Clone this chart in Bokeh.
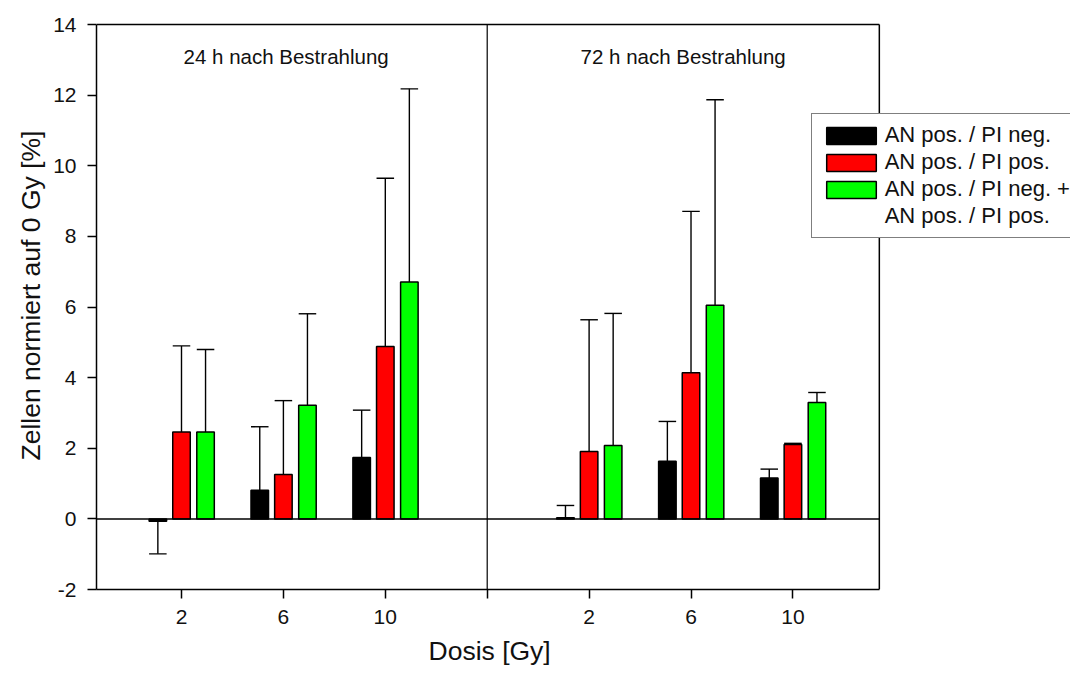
from bokeh.plotting import figure
from bokeh.models import (ColumnDataSource, FixedTicker, Label, Legend, LegendItem, Title)
from bokeh.embed import file_html
from bokeh.resources import INLINE

# ---------------- data ----------------
dose_labels = ["2", "6", "10", "", "2", "6", "10"]
tick_positions = [1, 2, 3, 4, 5, 6, 7]
group_positions = [1, 2, 3, 5, 6, 7]          # 24 h: 2, 6, 10 Gy | 72 h: 2, 6, 10 Gy
y_ticks = [-2, 0, 2, 4, 6, 8, 10, 12, 14]
y_tick_labels = ["-2", "0", "2", "4", "6", "8", "10", "12", "14"]
series_names = ["AN pos. / PI neg.", "AN pos. / PI pos.", "AN pos. / PI neg. +"]
series_names_cont = "AN pos. / PI pos."

an_pos_pi_neg = [-0.07, 0.81, 1.74, 0.03, 1.63, 1.16]
an_pos_pi_neg_err = [0.92, 1.80, 1.34, 0.35, 1.13, 0.25]

an_pos_pi_pos = [2.46, 1.26, 4.88, 1.91, 4.14, 2.11]
an_pos_pi_pos_err = [2.44, 2.09, 4.77, 3.73, 4.57, 0.03]

an_pos_sum = [2.46, 3.22, 6.71, 2.08, 6.05, 3.30]
an_pos_sum_err = [2.34, 2.59, 5.47, 3.74, 5.82, 0.28]

colors = ["#000000", "#FF0000", "#00FF00"]
offsets = [-0.232, 0.0, 0.236]
bar_w = 0.172

FONT = "Liberation Sans"
X0, X1 = 0.1659, 7.848      # panel x extent
Y0, Y1 = -2, 14

p = figure(width=1070, height=673, x_range=(X0, 9.724), y_range=(Y0, 14.06),
           output_backend="svg", toolbar_location=None,
           min_border_left=96, min_border_right=0, min_border_top=22, min_border_bottom=84)
p.xgrid.visible = False
p.ygrid.visible = False
p.outline_line_color = None
p.background_fill_color = "white"
p.border_fill_color = "white"

renderers = []
for vals, errs, col, off in zip([an_pos_pi_neg, an_pos_pi_pos, an_pos_sum],
                                [an_pos_pi_neg_err, an_pos_pi_pos_err, an_pos_sum_err],
                                colors, offsets):
    xs = [g + off for g in group_positions]
    ends = [v + e if v >= 0 else v - e for v, e in zip(vals, errs)]
    src = ColumnDataSource(dict(x=xs, top=vals, end=ends,
                                x0=[x - bar_w / 2 for x in xs],
                                x1=[x + bar_w / 2 for x in xs]))
    p.segment(x0="x", y0="top", x1="x", y1="end", source=src, line_color="black", line_width=1.4)
    p.segment(x0="x0", y0="end", x1="x1", y1="end", source=src, line_color="black", line_width=1.4)
    r = p.vbar(x="x", top="top", bottom=0, width=bar_w, source=src,
               fill_color=col, line_color="black", line_width=1.5)
    renderers.append(r)
blank = p.vbar(x=[], top=[], width=bar_w, fill_alpha=0, line_alpha=0)

# frame lines: top, right, zero line, divider
p.segment(x0=[X0, X1, X0, 4], y0=[Y1, Y0, 0, Y0], x1=[X1, X1, X1, 4], y1=[Y1, Y1, 0, Y1],
          line_color="black", line_width=[1.5, 1.5, 1.5, 1.2])

for txt, xpos in [("24 h nach Bestrahlung", 1.02), ("72 h nach Bestrahlung", 4.916)]:
    p.add_layout(Label(x=xpos, y=13.09, text=txt, text_font=FONT, text_font_size="20.5px",
                       text_baseline="middle", text_align="left", text_color="#111111"))

# axes
p.xaxis.ticker = FixedTicker(ticks=tick_positions)
p.xaxis.major_label_overrides = {t: l for t, l in zip(tick_positions, dose_labels)}
p.xaxis.bounds = (X0, X1)
p.yaxis.ticker = FixedTicker(ticks=y_ticks)
p.yaxis.major_label_overrides = {t: l for t, l in zip(y_ticks, y_tick_labels)}
p.yaxis.bounds = (Y0, Y1)
for ax in (p.xaxis[0], p.yaxis[0]):
    ax.major_tick_in = 0
    ax.major_tick_out = 9
    ax.minor_tick_line_color = None
    ax.axis_line_width = 1.5
    ax.major_tick_line_width = 1.5
    ax.axis_line_color = "black"
    ax.major_tick_line_color = "black"
    ax.major_label_text_font = FONT
    ax.major_label_text_font_size = "21px"
    ax.major_label_text_color = "#111111"
p.xaxis.major_label_standoff = 11
p.yaxis.major_label_standoff = 11

# axis titles (as panel titles so they can be positioned like the reference)
p.add_layout(Title(text="Dosis [Gy]", align="left", offset=332, standoff=15,
                   text_font=FONT, text_font_size="26.5px", text_font_style="normal",
                   text_color="#111111"), "below")
p.add_layout(Title(text="Zellen normiert auf 0 Gy [%]", align="left", offset=129, standoff=9,
                   text_font=FONT, text_font_size="26.5px", text_font_style="normal",
                   text_color="#111111"), "left")

items = [LegendItem(label=n, renderers=[r]) for n, r in zip(series_names, renderers)]
items.append(LegendItem(label=series_names_cont, renderers=[blank]))
legend = Legend(items=items,
                location=(714.7, 350.7), label_text_font=FONT, label_text_font_size="22px",
                label_text_color="#111111", glyph_width=62, glyph_height=21, label_standoff=3,
                padding=8, spacing=1, margin=0, border_line_color="black", border_line_width=1.5,
                background_fill_color="white", background_fill_alpha=1.0)
p.add_layout(legend, "center")

open("out.html", "w").write(file_html(p, INLINE))
